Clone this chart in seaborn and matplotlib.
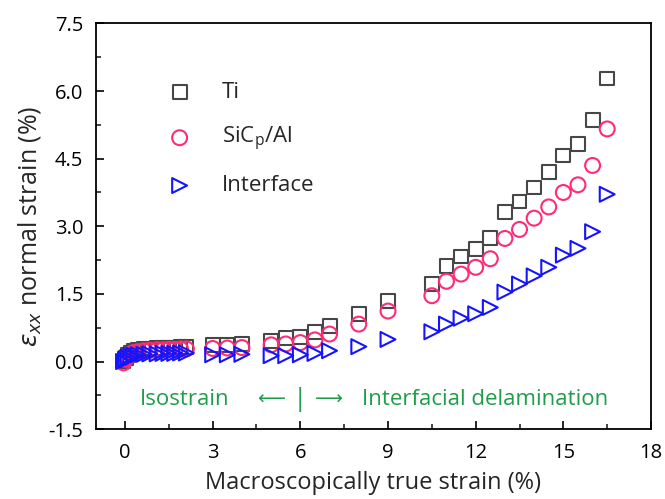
import matplotlib
matplotlib.use("Agg")
import matplotlib.pyplot as plt
from matplotlib.ticker import MultipleLocator
import seaborn as sns
import pandas as pd

# macroscopic true strain (%) at each measurement stage
strain = [-0.05, 0.02, 0.1, 0.2, 0.3, 0.45, 0.65, 0.85, 1.1, 1.3, 1.5, 1.7, 1.9, 2.1,
          3.0, 3.5, 4.0, 5.0, 5.5, 6.0, 6.5, 7.0, 8.0, 9.0,
          10.5, 11.0, 11.5, 12.0, 12.5, 13.0, 13.5, 14.0, 14.5, 15.0, 15.5, 16.0, 16.5]

ti = [0.0, 0.08, 0.15, 0.2, 0.23, 0.26, 0.28, 0.29, 0.3, 0.3, 0.31, 0.31, 0.32, 0.32,
      0.36, 0.37, 0.38, 0.46, 0.52, 0.55, 0.66, 0.78, 1.06, 1.35,
      1.72, 2.12, 2.33, 2.5, 2.75, 3.32, 3.55, 3.86, 4.21, 4.57, 4.82, 5.36, 6.28]

sicp_al = [-0.03, 0.05, 0.12, 0.17, 0.2, 0.22, 0.24, 0.25, 0.26, 0.26, 0.27, 0.27, 0.28, 0.28,
           0.29, 0.3, 0.31, 0.37, 0.39, 0.42, 0.48, 0.61, 0.83, 1.12,
           1.46, 1.78, 1.94, 2.09, 2.28, 2.73, 2.93, 3.18, 3.43, 3.75, 3.92, 4.35, 5.16]

interface = [0.0, 0.05, 0.09, 0.12, 0.14, 0.15, 0.16, 0.17, 0.17, 0.18, 0.18, 0.18, 0.19, 0.19,
             0.15, 0.15, 0.16, 0.13, 0.13, 0.15, 0.18, 0.24, 0.33, 0.49,
             0.66, 0.83, 0.96, 1.06, 1.2, 1.54, 1.72, 1.9, 2.09, 2.36, 2.51, 2.88, 3.71]

series = ["Ti", "SiC$_\\mathregular{p}$/Al", "Interface"]
markers = ["s", "o", ">"]
colors = ["#474747", "#ff2a78", "#1414ff"]
sizes = [100, 115, 115]

df = pd.DataFrame({"strain": strain, series[0]: ti, series[1]: sicp_al, series[2]: interface})

sns.set_style("ticks")
plt.rcParams['font.family'] = ['Open Sans', 'DejaVu Sans']

fig, ax = plt.subplots(figsize=(6.65, 4.99), dpi=100)
fig.subplots_adjust(left=0.144, right=0.979, top=0.953, bottom=0.14)

for name, m, c, s in zip(series, markers, colors, sizes):
    sns.scatterplot(data=df, x="strain", y=name, marker=m, s=s, facecolor="none",
                    edgecolor=c, linewidth=1.5, label=name, ax=ax)

ax.set_xlim(-1, 18)
ax.set_ylim(-1.5, 7.5)
ax.xaxis.set_major_locator(MultipleLocator(3))
ax.xaxis.set_minor_locator(MultipleLocator(1.5))
ax.yaxis.set_major_locator(MultipleLocator(1.5))
ax.yaxis.set_minor_locator(MultipleLocator(0.75))
ax.yaxis.set_major_formatter(matplotlib.ticker.FormatStrFormatter('%.1f'))
ax.tick_params(which="major", direction="in", length=6, width=1.2, labelsize=14.5, colors="black")
ax.tick_params(axis="y", which="major", pad=9)
ax.tick_params(axis="x", which="major", pad=10)
ax.tick_params(which="minor", direction="in", length=3.5, width=1.2)
for sp in ax.spines.values():
    sp.set_linewidth(1.3)
    sp.set_color("black")

ax.set_xlabel("Macroscopically true strain (%)", fontsize=17, labelpad=6)
ax.set_ylabel(r"$\varepsilon_{xx}$ normal strain (%)", fontsize=18, labelpad=4)

leg = ax.legend(loc="upper left", bbox_to_anchor=(0.095, 0.878), frameon=False, fontsize=16,
                labelspacing=1.0, handletextpad=0.9, borderaxespad=0)

green = "#1f9e4a"
ax.text(2.05, -0.85, "Isostrain", color=green, fontsize=16, ha="center", va="center")
ax.text(5.0, -0.85, "\u27f5", color=green, fontsize=14, ha="center", va="center")
ax.text(6.0, -0.85, "|", color=green, fontsize=19, ha="center", va="center")
ax.text(6.98, -0.85, "\u27f6", color=green, fontsize=14, ha="center", va="center")
ax.text(8.1, -0.85, "Interfacial delamination", color=green, fontsize=16, ha="left", va="center")

fig.savefig("out.png", dpi=100)
